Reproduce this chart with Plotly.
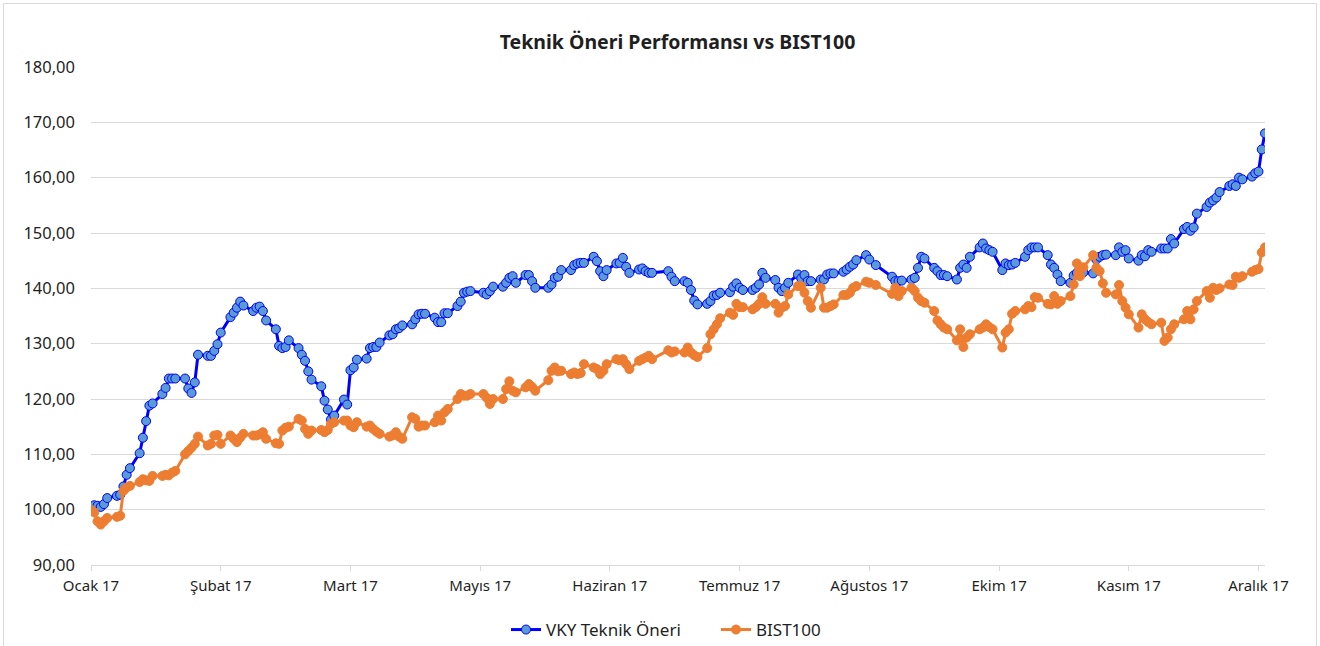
import pandas as pd
import plotly.graph_objects as go

# ---------------- data ----------------
TITLE = "Teknik Öneri Performansı vs BIST100"
SERIES_NAMES = ["VKY Teknik Öneri", "BIST100"]

BASE_DATE = "2017-01-01"
START_DATE = "2017-01-02"
END_DATE = "2017-12-29"
HOLIDAYS = ["2017-05-01", "2017-05-19", "2017-06-26", "2017-06-27",
            "2017-08-30", "2017-09-01", "2017-09-04"]

TICK_DATES = ["2017-01-01", "2017-02-10", "2017-03-22", "2017-05-01", "2017-06-10",
              "2017-07-20", "2017-08-29", "2017-10-08", "2017-11-17", "2017-12-27"]
TICK_LABELS = ["Ocak 17", "Şubat 17", "Mart 17", "Mayıs 17", "Haziran 17",
               "Temmuz 17", "Ağustos 17", "Ekim 17", "Kasım 17", "Aralık 17"]

VKY = [
    100.0,
    100.8, 100.7, 100.5, 101.0, 102.1,
    102.5, 102.7, 104.2, 106.3, 107.5,
    110.2, 113.0, 116.0, 118.8, 119.2,
    120.9, 122.0, 123.7, 123.7, 123.7,
    123.7, 121.9, 121.1, 123.0, 128.0,
    127.8, 127.8, 128.7, 129.9, 132.0,
    134.8, 135.6, 136.5, 137.6, 136.9,
    135.9, 136.5, 136.7, 135.9, 134.2,
    132.6, 129.6, 129.2, 129.4, 130.6,
    129.2, 128.0, 126.9, 125.0, 123.5,
    122.3, 119.7, 118.1, 116.3, 117.0,
    119.9, 119.0, 125.2, 125.7, 127.1,
    127.3, 129.2, 129.4, 129.4, 130.2,
    131.5, 131.7, 132.6, 132.8, 133.3,
    133.5, 134.4, 135.3, 135.4, 135.4,
    134.7, 133.9, 133.9, 135.5, 135.5,
    136.8, 137.6, 139.2, 139.4, 139.5,
    139.2, 138.9, 139.5, 140.3,
    140.3, 141.0, 141.9, 142.2, 141.0,
    142.4, 142.4, 141.3, 140.1,
    140.1, 140.7, 141.9, 142.1, 143.3,
    143.3, 144.2, 144.5, 144.6, 144.6,
    145.7, 144.9, 143.1, 142.2, 143.3,
    144.5, 144.6, 145.5, 143.9, 142.8,
    143.4, 143.6, 143.1, 142.8, 142.8,
    143.1, 142.1, 141.3,
    141.3, 141.0, 139.7, 137.8, 137.1,
    137.2, 137.7, 138.7, 138.8, 139.2,
    139.3, 140.3, 140.9, 140.1, 139.7,
    139.7, 140.1, 140.7, 142.8, 141.9,
    141.5, 140.1, 139.5, 140.1, 141.0,
    142.5, 141.8, 142.4, 141.3, 141.3,
    141.6, 141.6, 142.5, 142.7, 142.7,
    143.0, 143.4, 143.9, 144.3, 145.1,
    146.0, 145.2, 144.2,
    142.1, 141.3, 141.3, 141.4,
    141.6, 141.9, 143.7, 145.7, 145.4,
    143.7, 143.1, 142.4, 142.4, 142.2,
    141.6, 143.7, 144.3, 143.7, 145.7,
    147.4, 148.1, 147.2, 146.9, 146.6,
    143.3, 144.5, 144.2, 144.3, 144.6,
    145.7, 146.9, 147.4, 147.4, 147.4,
    146.0, 144.3, 143.7, 142.5, 141.3,
    141.0, 142.3, 142.8, 143.1, 142.9,
    142.7, 145.2, 145.7, 146.0, 146.1,
    146.0, 147.4, 146.6, 146.9, 145.4,
    145.0, 146.0, 145.8, 146.9, 146.6,
    147.2, 147.2, 147.2, 148.9, 148.1,
    150.7, 151.1, 150.4, 151.0, 153.5,
    154.7, 155.5, 155.9, 156.4, 157.4,
    158.5, 158.8, 158.5, 160.0, 159.7,
    160.2, 160.8, 161.1, 165.1, 168.0,
]

BIST100 = [
    100.0,
    99.5, 97.9, 97.3, 97.9, 98.5,
    98.7, 98.9, 103.4, 104.0, 104.3,
    105.0, 105.5, 105.3, 105.2, 106.1,
    106.1, 106.3, 106.2, 106.7, 107.0,
    110.0, 110.6, 111.2, 111.9, 113.2,
    111.6, 111.9, 113.4, 113.5, 111.9,
    113.4, 112.8, 112.2, 113.0, 113.7,
    113.4, 113.4, 113.6, 114.0, 112.8,
    112.0, 111.9, 114.3, 114.8, 115.0,
    116.4, 116.1, 114.6, 113.7, 114.3,
    114.4, 114.0, 114.4, 115.5, 115.8,
    116.1, 116.1, 115.2, 114.9, 115.8,
    115.0, 115.2, 114.6, 114.1, 113.7,
    113.2, 113.4, 114.0, 113.2, 112.8,
    116.7, 116.4, 115.0, 115.2, 115.2,
    115.8, 117.0, 116.1, 117.6, 118.2,
    120.0, 120.9, 120.6, 120.6, 120.9,
    120.9, 120.2, 119.1, 120.0,
    120.0, 121.8, 123.2, 121.5, 121.2,
    122.1, 122.7, 122.2, 121.5,
    123.4, 125.1, 125.7, 125.0, 125.1,
    124.5, 124.8, 124.5, 124.7, 126.3,
    125.7, 125.4, 124.5, 125.1, 126.3,
    127.2, 127.0, 127.2, 126.3, 125.4,
    126.9, 127.2, 127.5, 127.8, 127.2,
    128.8, 128.4, 128.6,
    128.4, 129.3, 128.4, 127.9, 127.6,
    129.2, 131.7, 132.6, 133.5, 134.6,
    135.6, 135.2, 137.2, 136.6, 136.6,
    136.2, 136.6, 137.2, 138.4, 137.2,
    137.2, 135.6, 136.5, 136.8, 138.9,
    140.4, 140.4, 139.2, 137.7, 136.5,
    140.1, 136.5, 136.5, 136.8, 137.1,
    138.8, 138.8, 139.2, 140.1, 140.4,
    141.2, 141.0, 140.6,
    139.0, 140.1, 138.6, 139.5,
    140.1, 139.5, 138.3, 137.7, 137.4,
    135.9, 134.2, 133.5, 132.9, 132.6,
    130.6, 132.6, 129.4, 131.1, 131.7,
    132.6, 132.9, 133.5, 133.0, 132.6,
    129.3, 132.0, 132.6, 135.4, 135.9,
    136.2, 136.8, 136.6, 138.4, 138.3,
    137.2, 137.1, 138.6, 137.2, 137.7,
    138.6, 140.7, 144.5, 142.2, 143.8,
    146.0, 143.7, 143.1, 140.9, 139.2,
    138.9, 140.6, 137.7, 136.5, 135.3,
    132.9, 135.3, 134.4, 133.9, 133.5,
    133.8, 130.5, 131.1, 132.6, 133.5,
    134.4, 135.9, 134.4, 136.2, 137.7,
    139.5, 138.3, 140.1, 139.7, 140.0,
    140.7, 140.6, 142.1, 141.9, 142.2,
    143.0, 143.3, 143.5, 146.5, 147.4,
]

# trading-day categories (base day + business days without holidays)
hol = set(pd.to_datetime(HOLIDAYS))
DATES = [BASE_DATE] + [d.strftime("%Y-%m-%d")
                       for d in pd.bdate_range(START_DATE, END_DATE) if d not in hol]
assert len(DATES) == len(VKY) == len(BIST100), (len(DATES), len(VKY), len(BIST100))

# ---------------- figure ----------------
FONT = "Noto Sans"
TXT = "#1f1f1f"
L, R, T, B = 91, 1265, 67, 565
PW, PH = float(R - L), float(B - T)

fig = go.Figure()
fig.add_trace(go.Scatter(
    x=DATES, y=VKY, name=SERIES_NAMES[0], mode="lines+markers",
    line=dict(color="#0000FF", width=3),
    marker=dict(symbol="circle", size=9, color="#5B9BD5",
                line=dict(color="#0000FF", width=1)),
))
fig.add_trace(go.Scatter(
    x=DATES, y=BIST100, name=SERIES_NAMES[1], mode="lines+markers",
    line=dict(color="#ED7D31", width=3),
    marker=dict(symbol="circle", size=9, color="#ED7D31",
                line=dict(color="#ED7D31", width=1)),
))

fig.update_layout(
    width=1320, height=646,
    margin=dict(l=L, r=1320 - R, t=T, b=646 - B, autoexpand=False),
    paper_bgcolor="white", plot_bgcolor="white",
    separators=",.",
    title=dict(text="<b>" + TITLE + "</b>", x=677.5 / 1320, xanchor="center",
               y=1 - 42 / 646, yanchor="middle",
               font=dict(family=FONT, size=19.5, color=TXT)),
    legend=dict(orientation="h", xref="paper", x=(506 - L) / PW, xanchor="left",
                yref="container", y=1 - 630 / 646, yanchor="middle",
                font=dict(family=FONT, size=17, color=TXT),
                entrywidth=165, itemwidth=30),
    showlegend=True,
    font=dict(family=FONT, color=TXT),
)

fig.update_xaxes(
    type="date", range=[BASE_DATE, END_DATE],
    tickmode="array", tickvals=TICK_DATES, ticktext=TICK_LABELS,
    showgrid=False, showline=True, linecolor="#D9D9D9", linewidth=1,
    ticks="outside", ticklen=5, tickcolor="#D9D9D9",
    ticklabelstandoff=2,
    tickfont=dict(family=FONT, size=15, color=TXT),
    zeroline=False,
)
fig.update_yaxes(
    range=[90, 180], dtick=10, tick0=90, tickformat=".2f",
    showgrid=True, gridcolor="#D9D9D9", gridwidth=1,
    showline=False, zeroline=False, ticks="",
    ticklabelstandoff=15,
    tickfont=dict(family=FONT, size=16.5, color=TXT),
)

# chart-area border
fig.add_shape(type="rect", xref="paper", yref="paper",
              x0=(3.5 - L) / PW, x1=(1316.5 - L) / PW,
              y0=(B - 652) / PH, y1=(B - 3.5) / PH,
              line=dict(color="#D9D9D9", width=1), fillcolor="rgba(0,0,0,0)",
              layer="below")

fig.write_html("out.html", config={"displayModeBar": False},
               post_script="document.body.style.margin='0';document.body.style.overflow='hidden';")
